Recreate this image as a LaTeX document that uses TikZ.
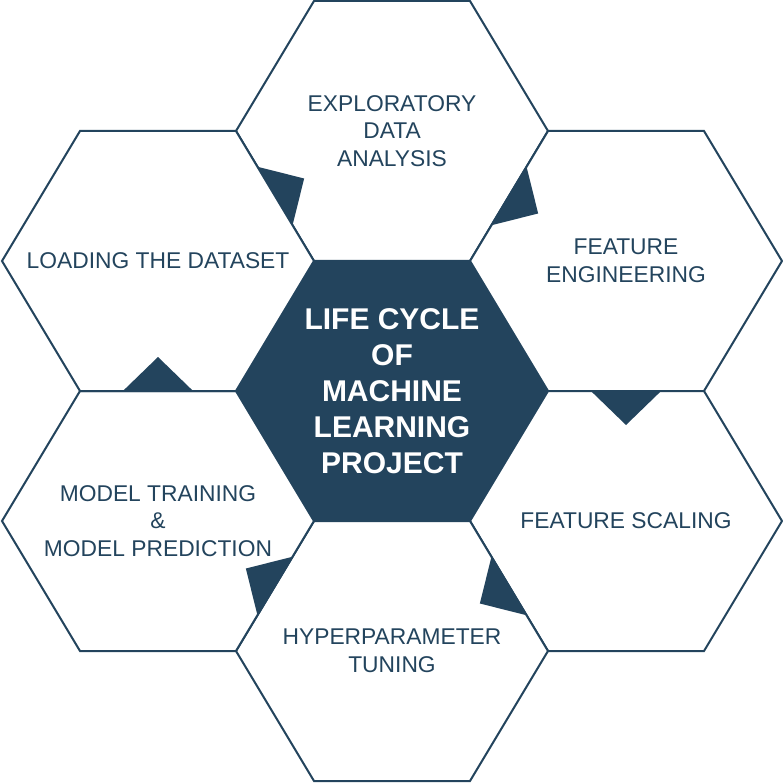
\documentclass[tikz,border=0pt]{standalone}
\usepackage{fontspec}
\setmainfont{Liberation Sans}
\usepackage{xcolor}
\usepackage{tikz}
\usetikzlibrary{calc}

\definecolor{slate}{HTML}{23445D}

\tikzset{
  hexline/.style={draw=slate, line width=2pt, fill=white, line join=miter},
  hexcore/.style={hexline, fill=slate},
  steptext/.style={text=slate, align=center, font=\fontsize{22.8}{27.5}\selectfont},
  coretext/.style={text=white, align=center, font=\fontsize{30}{36}\selectfont\bfseries},
  flowmark/.style={fill=slate}
}

\begin{document}
\begin{tikzpicture}[x=1pt, y=-1pt]
  \useasboundingbox (0,0) rectangle (783,783);

  % hexagon centres
  \coordinate (core) at (392,391);
  \coordinate (eda) at ($(core)+(0,-260)$);
  \coordinate (feng) at ($(core)+(234,-130)$);
  \coordinate (fscale) at ($(core)+(234,130)$);
  \coordinate (tune) at ($(core)+(0,260)$);
  \coordinate (train) at ($(core)+(-234,130)$);
  \coordinate (load) at ($(core)+(-234,-130)$);

  % honeycomb
  \foreach \h/\s in {core/hexcore, eda/hexline, feng/hexline, fscale/hexline, tune/hexline, train/hexline, load/hexline}
    \draw[\s] ($(\h)+(-156,0)$) -- ($(\h)+(-78,-130)$) -- ($(\h)+(78,-130)$) -- ($(\h)+(156,0)$) -- ($(\h)+(78,130)$) -- ($(\h)+(-78,130)$) -- cycle;

  % flow marks on the shared edges
  \foreach \h/\va/\vb in {load/{78,-130}/{156,0}, eda/{156,0}/{78,130}, feng/{78,130}/{-78,130}, fscale/{-78,130}/{-156,0}, tune/{-156,0}/{-78,-130}, train/{-78,-130}/{78,-130}} {
    \coordinate (a) at ($(\h)+(\va)$);
    \coordinate (b) at ($(\h)+(\vb)$);
    \coordinate (m) at ($(a)!0.5!(b)$);
    \fill[flowmark] ($(a)!0.275!(b)$) -- ($(m)!34pt!90:(b)$) -- ($(a)!0.725!(b)$) -- cycle;
  }

  % labels
  \node[coretext] (title) at (core) {LIFE CYCLE\\OF\\MACHINE\\LEARNING\\PROJECT};
  \node[steptext] (edatext) at (eda) {EXPLORATORY\\DATA\\ANALYSIS};
  \node[steptext] (fengtext) at (feng) {FEATURE\\ENGINEERING};
  \node[steptext] (fscaletext) at (fscale) {FEATURE SCALING};
  \node[steptext] (tunetext) at (tune) {HYPERPARAMETER\\TUNING};
  \node[steptext] (traintext) at (train) {MODEL TRAINING\\\&\\MODEL PREDICTION};
  \node[steptext] (loadtext) at (load) {LOADING THE DATASET};
\end{tikzpicture}
\end{document}
